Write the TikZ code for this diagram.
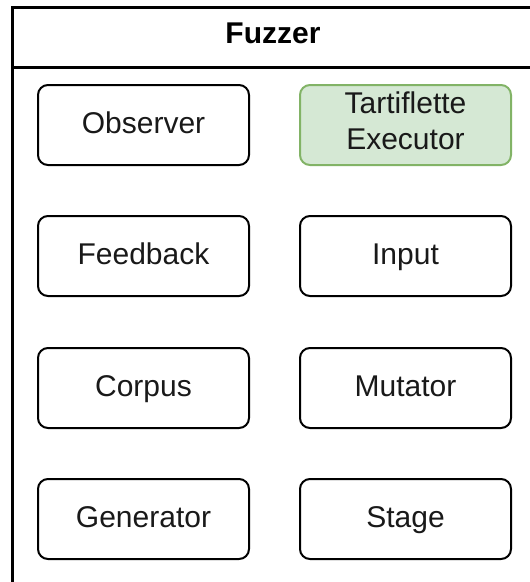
\documentclass[tikz,border=0pt]{standalone}
\usepackage{fontspec}
\setmainfont{Liberation Sans}
\definecolor{greenfill}{HTML}{D5E8D4}
\definecolor{greenline}{HTML}{82B366}
\tikzset{
  compbase/.style={draw=black, line width=2pt, rounded corners=10pt, minimum width=211pt, minimum height=80pt, align=center, inner sep=0pt, font=\fontsize{30}{36}\selectfont, text=black!90},
  comp/.style={compbase, text height=22pt, text depth=6pt},
  greencomp/.style={compbase, draw=greenline, fill=greenfill, text depth=8pt},
  frame/.style={draw=black, line width=3pt},
}
\begin{document}
\begin{tikzpicture}[x=1pt,y=-1pt]
\useasboundingbox (0,0) rectangle (530,582);
\begin{scope}
\clip (0,0) rectangle (530,582);
\draw[frame] (12.5,7) rectangle (534,590);
\draw[frame] (12.5,67) -- (534,67);
\end{scope}
\node[font=\bfseries\fontsize{30}{36}\selectfont, text height=22pt, text depth=6pt] (title) at (273,35) {Fuzzer};
\node[comp] (observer) at (143.5,125) {Observer};
\node[greencomp] (executor) at (405.5,125) {Tartiflette\\Executor};
\node[comp] (feedback) at (143.5,256) {Feedback};
\node[comp] (input) at (405.5,256) {Input};
\node[comp] (corpus) at (143.5,388) {Corpus};
\node[comp] (mutator) at (405.5,388) {Mutator};
\node[comp] (generator) at (143.5,519) {Generator};
\node[comp] (stage) at (405.5,519) {Stage};
\end{tikzpicture}
\end{document}
